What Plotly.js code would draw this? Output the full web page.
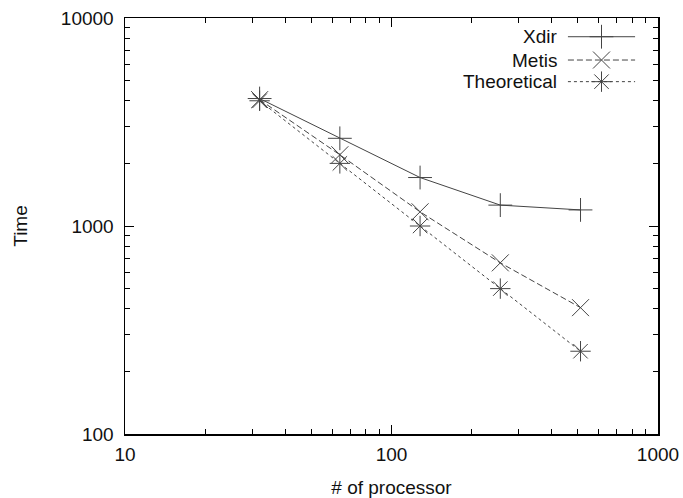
<!DOCTYPE html>
<html>
<head>
<meta charset="utf-8">
<script src="https://cdn.plot.ly/plotly-3.0.1.min.js"></script>
<style>html,body{margin:0;padding:0;background:#fff;}#chart{width:683px;height:498px;}</style>
</head>
<body>
<div id="chart"></div>
<script>
// ---- data ----
const processors = [32, 64, 128, 256, 512];
const xdirTime = [4100, 2640, 1710, 1260, 1195];
const metisTime = [4050, 2200, 1170, 665, 405];
const theoreticalTime = [4000, 2000, 1000, 500, 250];
const seriesNames = ['Xdir', 'Metis', 'Theoretical'];
const xTickVals = [10, 100, 1000];
const xTickText = ['10', '100', '1000'];
const yTickVals = [100, 1000, 10000];
const yTickText = ['100', '1000', '10000'];

// ---- styles ----
const ink = '#444';
const styles = [
  {dash: 'solid', symbol: 'cross-thin'},
  {dash: '6px,3px', symbol: 'x-thin'},
  {dash: '3px,3px', symbol: 'asterisk'}
];
const seriesData = [xdirTime, metisTime, theoreticalTime];
const FONT = 'Liberation Sans, Arial, Helvetica, sans-serif';
const FS = 19;

const traces = seriesData.map((ys, i) => ({
  type: 'scatter', mode: 'lines+markers',
  x: processors, y: ys, name: seriesNames[i],
  line: {color: ink, width: 1, dash: styles[i].dash},
  marker: {symbol: styles[i].symbol, size: 17, color: ink, line: {color: ink, width: 1}},
  showlegend: false, hoverinfo: 'skip'
}));

// custom gnuplot-style legend (text right, sample left->right)
const legY = [0.955, 0.899, 0.847];
const legTextX = 0.814, legLineX0 = 0.831, legLineX1 = 0.957, legMarkX = 0.894;
const shapes = [];
const annotations = [];
seriesNames.forEach((n, i) => {
  annotations.push({xref: 'paper', yref: 'paper', x: legTextX, y: legY[i], xanchor: 'right', yanchor: 'middle',
    text: n, showarrow: false, font: {family: FONT, size: FS, color: '#111'}});
  shapes.push({type: 'line', xref: 'paper', yref: 'paper', x0: legLineX0, x1: legLineX1, y0: legY[i], y1: legY[i],
    line: {color: ink, width: 1, dash: styles[i].dash}});
});
traces.push({
  type: 'scatter', mode: 'markers', xaxis: 'x2', yaxis: 'y2',
  x: seriesNames.map(() => legMarkX), y: legY,
  marker: {symbol: styles.map(s => s.symbol), size: 17, color: ink, line: {color: ink, width: 1}},
  showlegend: false, hoverinfo: 'skip'
});

const axisCommon = {
  type: 'log', showgrid: false, zeroline: false,
  showline: true, linecolor: '#000', linewidth: 1.5, mirror: 'ticks',
  ticks: 'inside', ticklen: 9, tickwidth: 1, tickcolor: '#000',
  tickfont: {family: FONT, size: FS, color: '#111'},
  minor: {ticks: 'inside', ticklen: 5, tickwidth: 1, tickcolor: '#000', dtick: 'D1', showgrid: false}
};

const layout = {
  width: 683, height: 498,
  margin: {l: 125, r: 25, t: 18, b: 64},
  paper_bgcolor: '#fff', plot_bgcolor: '#fff',
  showlegend: false,
  xaxis: Object.assign({}, axisCommon, {
    range: [1, 3], tickmode: 'array', tickvals: xTickVals, ticktext: xTickText,
    ticklabelstandoff: 3,
    title: {text: '# of processor', font: {family: FONT, size: FS, color: '#111'}, standoff: 16}
  }),
  yaxis: Object.assign({}, axisCommon, {
    range: [2, 4], tickmode: 'array', tickvals: yTickVals, ticktext: yTickText,
    ticklabelstandoff: 6,
    title: {text: 'Time', font: {family: FONT, size: FS, color: '#111'}, standoff: 28}
  }),
  xaxis2: {overlaying: 'x', range: [0, 1], visible: false, fixedrange: true},
  yaxis2: {overlaying: 'y', range: [0, 1], visible: false, fixedrange: true},
  shapes: shapes,
  annotations: annotations
};

Plotly.newPlot('chart', traces, layout, {staticPlot: true, displayModeBar: false});
</script>
</body>
</html>
